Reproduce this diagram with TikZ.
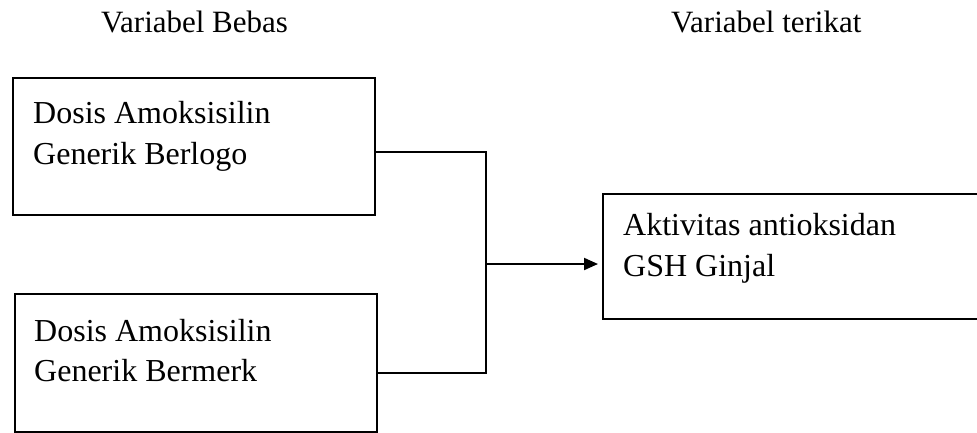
\documentclass[tikz,border=0pt]{standalone}
\usepackage{fontspec}
\setmainfont{Liberation Serif}
\usetikzlibrary{arrows.meta}
\begin{document}
\begin{tikzpicture}[x=1pt,y=-1pt,
  boxstyle/.style={draw=black, line width=1.5pt, minimum width=#1, anchor=north west, inner sep=0pt},
  lbl/.style={anchor=base west, inner sep=0pt, font=\fontsize{32}{41}\selectfont},
  ttl/.style={anchor=base west, inner sep=0pt, font=\fontsize{31}{41}\selectfont},
  conn/.style={line width=1.5pt},
  arr/.style={line width=2pt, -{Triangle[length=14pt,width=12pt]}}]
\useasboundingbox (0,0) rectangle (977,432);
\fill[white] (0,0) rectangle (977,432);
% titles
\node[ttl] (t1) at (101,32) {Variabel Bebas};
\node[ttl] (t2) at (671,32) {Variabel terikat};
% boxes
\node[boxstyle=362pt, minimum height=137pt] (b1) at (12,77) {};
\node[boxstyle=362pt, minimum height=138pt] (b2) at (14,293) {};
\node[boxstyle=385pt, minimum height=125pt] (b3) at (602,193) {};
% texts
\node[lbl] (x1a) at (33,123) {Dosis Amoksisilin};
\node[lbl] (x1b) at (33,164) {Generik Berlogo};
\node[lbl] (x2a) at (34,341) {Dosis Amoksisilin};
\node[lbl] (x2b) at (34,381) {Generik Bermerk};
\node[lbl] (x3a) at (623,235) {Aktivitas antioksidan};
\node[lbl] (x3b) at (623,276) {GSH Ginjal};
% connectors
\coordinate (j1) at (486,152);
\coordinate (j2) at (486,373);
\coordinate (j) at (486,264);
\draw[conn] (b1.east |- j1) -- (j1) -- (j2) -- (b2.east |- j2);
\draw[arr] (j) -- ([xshift=-4pt]b3.west |- j);
\end{tikzpicture}
\end{document}
